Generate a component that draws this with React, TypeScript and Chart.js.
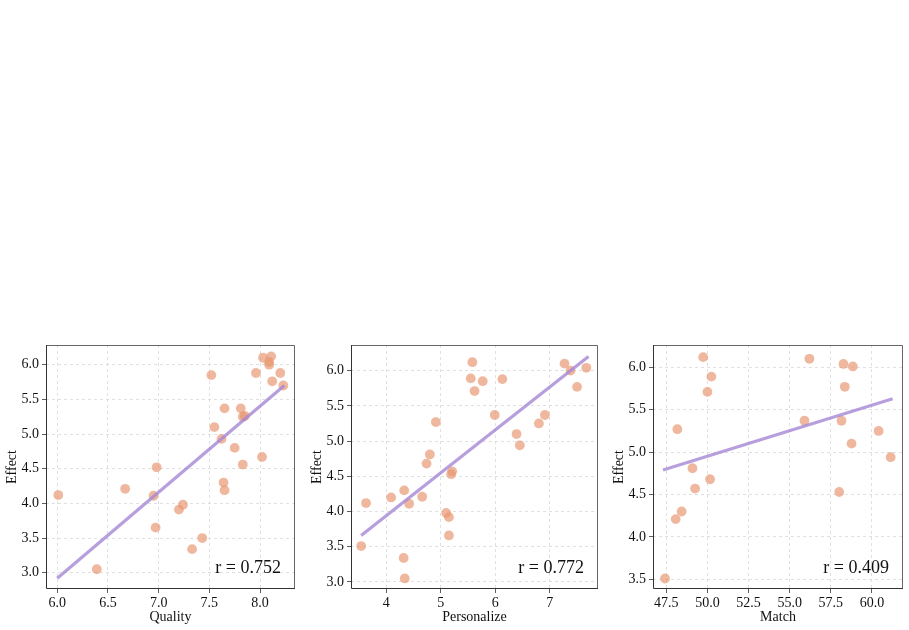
import React, { useEffect, useRef } from "react";
import { Chart, registerables } from "chart.js";

Chart.register(...registerables);

// ---------- Data ----------
const qualityX = [6.01, 6.39, 6.67, 6.98, 6.95, 6.97, 7.2, 7.24, 7.33, 7.43, 7.52, 7.55, 7.62, 7.65, 7.64, 7.65, 7.75, 7.81, 7.83, 7.85, 7.83, 7.96, 8.02, 8.03, 8.09, 8.09, 8.11, 8.12, 8.2, 8.23];
const qualityEffect = [4.12, 3.05, 4.21, 4.52, 4.11, 3.65, 3.91, 3.98, 3.34, 3.5, 5.85, 5.1, 4.93, 5.37, 4.3, 4.19, 4.8, 5.37, 5.25, 5.26, 4.56, 5.88, 4.67, 6.1, 6.0, 6.04, 6.12, 5.76, 5.88, 5.7];
const qualityFitX = [6.0, 8.24];
const qualityFitY = [2.92, 5.7];
const qualityTicksX = [6.0, 6.5, 7.0, 7.5, 8.0];
const qualityTicksY = [3.0, 3.5, 4.0, 4.5, 5.0, 5.5, 6.0];

const personalizeX = [3.54, 3.63, 4.09, 4.33, 4.42, 4.32, 4.34, 4.66, 4.74, 4.8, 4.91, 5.1, 5.15, 5.15, 5.19, 5.21, 5.55, 5.58, 5.62, 5.77, 5.99, 6.13, 6.39, 6.45, 6.8, 6.91, 7.27, 7.38, 7.5, 7.67];
const personalizeEffect = [3.51, 4.12, 4.2, 4.3, 4.11, 3.34, 3.05, 4.21, 4.68, 4.81, 5.27, 3.98, 3.92, 3.66, 4.53, 4.57, 5.89, 6.12, 5.71, 5.85, 5.37, 5.88, 5.1, 4.94, 5.25, 5.37, 6.1, 6.0, 5.77, 6.04];
const personalizeFitX = [3.54, 7.71];
const personalizeFitY = [3.66, 6.2];
const personalizeTicksX = [4, 5, 6, 7];
const personalizeTicksY = [3.0, 3.5, 4.0, 4.5, 5.0, 5.5, 6.0];

const matchX = [47.42, 48.07, 48.43, 48.17, 49.09, 49.25, 49.74, 50.0, 50.24, 50.16, 55.9, 56.2, 58.01, 58.15, 58.27, 58.35, 58.76, 58.84, 60.41, 61.14];
const matchEffect = [3.51, 4.21, 4.3, 5.27, 4.81, 4.57, 6.12, 5.71, 5.89, 4.68, 5.37, 6.1, 4.53, 5.37, 6.04, 5.77, 5.1, 6.01, 5.25, 4.94];
const matchFitX = [47.3, 61.26];
const matchFitY = [4.79, 5.63];
const matchTicksX = [47.5, 50.0, 52.5, 55.0, 57.5, 60.0];
const matchTicksY = [3.5, 4.0, 4.5, 5.0, 5.5, 6.0];

const rLabels = ["r = 0.752", "r = 0.772", "r = 0.409"];
const xTitles = ["Quality", "Personalize", "Match"];
const yTitle = "Effect";

// ---------- Styles ----------
const FONT = "'Liberation Serif', 'DejaVu Serif', serif";
const POINT_COLOR = "rgba(232,150,112,0.68)";
const LINE_COLOR = "rgba(165,135,212,0.8)";
const TEXT_COLOR = "#111";

type PanelSpec = {
  left: number;
  width: number;
  padRight: number;
  xs: number[];
  ys: number[];
  fitX: number[];
  fitY: number[];
  ticksX: number[];
  ticksY: number[];
  xMin: number;
  xMax: number;
  yMin: number;
  yMax: number;
  xDecimals: number;
  label: string;
  xTitle: string;
};

const panels: PanelSpec[] = [
  {
    left: 0, width: 300, padRight: 5,
    xs: qualityX, ys: qualityEffect, fitX: qualityFitX, fitY: qualityFitY,
    ticksX: qualityTicksX, ticksY: qualityTicksY,
    xMin: 5.889, xMax: 8.345, yMin: 2.765, yMax: 6.284, xDecimals: 1,
    label: rLabels[0], xTitle: xTitles[0],
  },
  {
    left: 305, width: 300, padRight: 7,
    xs: personalizeX, ys: personalizeEffect, fitX: personalizeFitX, fitY: personalizeFitY,
    ticksX: personalizeTicksX, ticksY: personalizeTicksY,
    xMin: 3.354, xMax: 7.884, yMin: 2.9, yMax: 6.364, xDecimals: 0,
    label: rLabels[1], xTitle: xTitles[1],
  },
  {
    left: 607, width: 302, padRight: 6,
    xs: matchX, ys: matchEffect, fitX: matchFitX, fitY: matchFitY,
    ticksX: matchTicksX, ticksY: matchTicksY,
    xMin: 46.69, xMax: 61.89, yMin: 3.386, yMax: 6.263, xDecimals: 1,
    label: rLabels[2], xTitle: xTitles[2],
  },
];

const framePlugin = {
  id: "frameAndLabel",
  afterDatasetsDraw(chart: any, _args: any, opts: any) {
    const { ctx, chartArea } = chart;
    const { left, right, top, bottom } = chartArea;
    ctx.save();
    ctx.lineWidth = 1;
    ctx.strokeStyle = "#666";
    ctx.beginPath();
    ctx.moveTo(left, top + 0.5);
    ctx.lineTo(right - 0.5, top + 0.5);
    ctx.lineTo(right - 0.5, bottom);
    ctx.stroke();
    ctx.strokeStyle = "#333";
    ctx.beginPath();
    ctx.moveTo(left + 0.5, top);
    ctx.lineTo(left + 0.5, bottom - 0.5);
    ctx.lineTo(right, bottom - 0.5);
    ctx.stroke();
    if (opts && opts.text) {
      ctx.fillStyle = TEXT_COLOR;
      ctx.font = `18px ${FONT}`;
      ctx.textAlign = "right";
      ctx.textBaseline = "alphabetic";
      ctx.fillText(opts.text, right - 14, bottom - 16);
    }
    ctx.restore();
  },
};

function Panel({ spec }: { spec: PanelSpec }) {
  const ref = useRef<HTMLCanvasElement>(null);
  useEffect(() => {
    const pts = spec.xs.map((x, i) => ({ x, y: spec.ys[i] }));
    const fit = spec.fitX.map((x, i) => ({ x, y: spec.fitY[i] }));
    const chart = new Chart(ref.current as HTMLCanvasElement, {
      type: "scatter",
      data: {
        datasets: [
          {
            type: "line",
            data: fit,
            borderColor: LINE_COLOR,
            borderWidth: 3.2,
            pointRadius: 0,
            showLine: true,
            order: 0,
          } as any,
          {
            data: pts,
            backgroundColor: POINT_COLOR,
            borderWidth: 0,
            pointRadius: 4.9,
            order: 1,
          },
        ],
      },
      options: {
        animation: false,
        responsive: false,
        layout: { padding: { top: 15, right: spec.padRight, left: 0, bottom: 0 } },
        plugins: {
          legend: { display: false },
          tooltip: { enabled: false },
          frameAndLabel: { text: spec.label },
        } as any,
        scales: {
          x: {
            type: "linear",
            min: spec.xMin,
            max: spec.xMax,
            afterBuildTicks: (s: any) => {
              s.ticks = spec.ticksX.map((v) => ({ value: v }));
            },
            afterFit: (s: any) => {
              s.height = 41;
            },
            grid: { color: "#d8d8d8", tickColor: "#333", tickLength: 4, lineWidth: 0.8 },
            border: { display: false, dash: [3, 3] },
            ticks: {
              padding: 2,
              color: TEXT_COLOR,
              font: { family: FONT, size: 14 },
              maxRotation: 0,
              autoSkip: false,
              callback: (v: any) => Number(v).toFixed(spec.xDecimals),
            },
            title: {
              display: true,
              text: spec.xTitle,
              color: TEXT_COLOR,
              font: { family: FONT, size: 14 },
              padding: { top: 5, bottom: 4 },
            },
          },
          y: {
            type: "linear",
            min: spec.yMin,
            max: spec.yMax,
            afterBuildTicks: (s: any) => {
              s.ticks = spec.ticksY.map((v) => ({ value: v }));
            },
            afterFit: (s: any) => {
              s.width = 46;
            },
            grid: { color: "#d8d8d8", tickColor: "#333", tickLength: 4, lineWidth: 0.8 },
            border: { display: false, dash: [3, 3] },
            ticks: {
              padding: 3,
              color: TEXT_COLOR,
              font: { family: FONT, size: 14 },
              autoSkip: false,
              callback: (v: any) => Number(v).toFixed(1),
            },
            title: {
              display: true,
              text: yTitle,
              color: TEXT_COLOR,
              font: { family: FONT, size: 14 },
              padding: { top: 4, bottom: 4 },
            },
          },
        },
      },
      plugins: [framePlugin],
    } as any);
    return () => chart.destroy();
  }, [spec]);
  return (
    <canvas
      ref={ref}
      width={spec.width}
      height={300}
      style={{ position: "absolute", left: spec.left, top: 330, width: spec.width, height: 300 }}
    />
  );
}

export default function App() {
  return (
    <div style={{ position: "absolute", left: 0, top: 0, width: 909, height: 630, background: "#fff", overflow: "hidden" }}>
      {panels.map((p, i) => (
        <Panel key={i} spec={p} />
      ))}
    </div>
  );
}
